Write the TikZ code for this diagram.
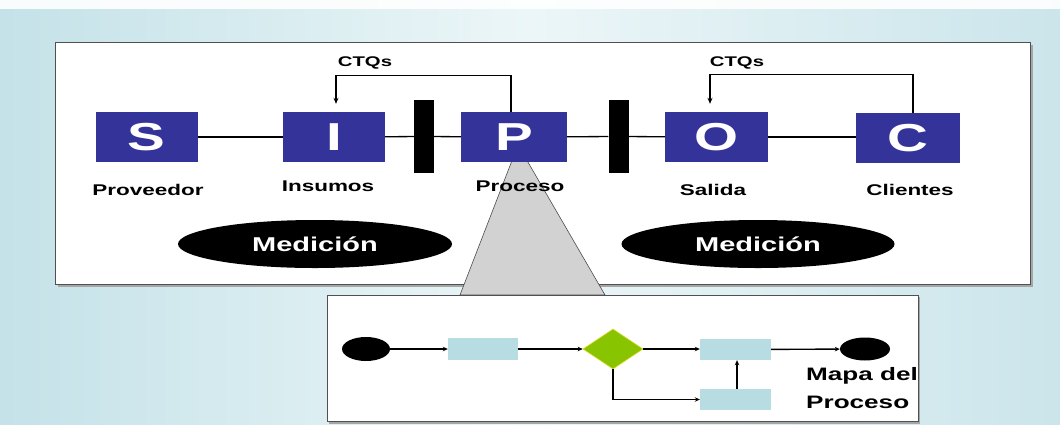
\documentclass[tikz,border=0pt]{standalone}
\usepackage{fontspec}
\setmainfont{Liberation Sans}
\newfontfamily\wide[FakeStretch=1.45]{Liberation Sans}
\usetikzlibrary{arrows.meta,shapes.geometric}
\definecolor{sipoc}{RGB}{51,51,153}
\definecolor{bgteal}{RGB}{196,226,232}
\definecolor{bgmid}{RGB}{236,246,248}
\definecolor{bgright}{RGB}{203,229,235}
\definecolor{flowbox}{RGB}{183,221,227}
\definecolor{flowgreen}{RGB}{136,196,0}
\definecolor{frame}{RGB}{80,80,80}
\begin{document}
\begin{tikzpicture}[x=1pt,y=-1pt,
  letterbox/.style={rectangle,fill=sipoc,text=white,minimum width=102pt,minimum height=50pt,inner sep=0pt,font=\wide\bfseries\fontsize{39}{40}\selectfont},
  barnode/.style={rectangle,fill=black,minimum width=20pt,minimum height=73pt,inner sep=0pt},
  lbl/.style={font=\wide\bfseries\fontsize{15.5}{18}\selectfont,inner sep=0pt},
  ctqlbl/.style={font=\wide\bfseries\fontsize{14}{16}\selectfont,inner sep=0pt},
  medic/.style={ellipse,fill=black,text=white,minimum width=274pt,minimum height=48pt,inner sep=0pt,font=\wide\bfseries\fontsize{20}{22}\selectfont},
  link/.style={line width=1.3pt,black},
  ctq/.style={line width=1.3pt,black,-{Stealth[length=6pt,width=5pt]}},
  flowarr/.style={line width=1.4pt,black,-{Stealth[length=5pt,width=4.5pt]}},
  fbox/.style={rectangle,fill=flowbox,minimum width=71pt,minimum height=22pt,inner sep=0pt},
  fend/.style={ellipse,fill=black,minimum width=48pt,minimum height=24pt,inner sep=0pt}
]
\useasboundingbox (0,0) rectangle (1060,424);
% background
\shade[left color=bgteal,right color=bgright,middle color=bgmid] (0,0) rectangle (1060,424);
\shade[top color=white,bottom color=white,opacity=0.9] (0,0) rectangle (1060,8);
% main frame
\fill[gray!70] (58,45) rectangle (1033,287);
\draw[frame,fill=white,line width=1pt] (55,42) rectangle (1030,284);
% zoom triangle
\coordinate (apex) at (518,145);
\coordinate (tl) at (460,295);
\coordinate (tr) at (605,295);
\draw[gray!60!black,fill=gray!35,line width=0.6pt] (apex) -- (tl) -- (tr) -- cycle;
% SIPOC boxes
\node[letterbox] (S) at (146.5,137) {S};
\node[letterbox] (I) at (334,137) {I};
\node[letterbox,minimum width=106pt] (P) at (514,137) {P};
\node[letterbox,minimum width=103pt] (O) at (716.5,137) {O};
\node[letterbox,minimum width=104pt] (C) at (908,138) {C};
\node[barnode] (b1) at (424,136.5) {};
\node[barnode] (b2) at (618.5,136.5) {};
\draw[link] (S) -- (I);
\draw[link] (I) -- (b1);
\draw[link] (b1) -- (P);
\draw[link] (P) -- (b2);
\draw[link] (b2) -- (O);
\draw[link] (O.east) -- (C.west|-O.east);
% CTQ arrows
\draw[ctq] ([xshift=-3pt]P.north) -- ++(0,-36) -| ([xshift=2pt,yshift=8pt]I.north);
\draw[ctq] ([xshift=5pt]C.north) -- ++(0,-38) -| ([xshift=-6.5pt,yshift=8pt]O.north);
\node[ctqlbl] (ctq1) at (365,63) {CTQs};
\node[ctqlbl] (ctq2) at (737,63) {CTQs};
% labels
\node[lbl] (lS) at (148,190) {Proveedor};
\node[lbl] (lI) at (328,186) {Insumos};
\node[lbl] (lP) at (520,186) {Proceso};
\node[lbl] (lO) at (713,190) {Salida};
\node[lbl] (lC) at (910,190) {Clientes};
% Medicion
\node[medic] (m1) at (315,244) {Medición};
\node[medic,minimum width=273pt] (m2) at (758,244) {Medición};
% lower box
\fill[gray!70] (329,297) rectangle (920,424);
\draw[frame,fill=white,line width=1pt] (327,295) rectangle (918,421);
\node[fend] (st) at (366,349) {};
\node[fbox,minimum width=70pt] (r1) at (483,349) {};
\node[diamond,fill=flowgreen,draw=yellow!60!flowgreen,line width=0.6pt,minimum width=60pt,minimum height=40pt,inner sep=0pt,aspect=1.5] (d) at (613,349) {};
\node[fbox,minimum height=21pt] (r2) at (735.5,349.5) {};
\node[fbox,minimum height=21pt] (r3) at (735.5,399.5) {};
\node[fend,minimum width=50pt,minimum height=23pt] (en) at (865,349) {};
\draw[flowarr] (st) -- (r1);
\draw[flowarr] (r1) -- (d);
\draw[flowarr] (d) -- (r2.west|-d);
\draw[flowarr] (d.south) |- (r3.west);
\draw[flowarr] ([xshift=1.5pt]r3.north) -- ([xshift=1.5pt]r2.south);
\draw[flowarr] (r2) -- (en);
\begin{scope}
\clip (327,295) rectangle (917.5,421);
\node[anchor=west,inner sep=0pt,align=left,font=\wide\bfseries\fontsize{18}{28}\selectfont] (mapa) at (806,388) {Mapa del\\Proceso};
\end{scope}
\draw[frame,line width=1pt] (918,295) -- (918,421);
\end{tikzpicture}
\end{document}
